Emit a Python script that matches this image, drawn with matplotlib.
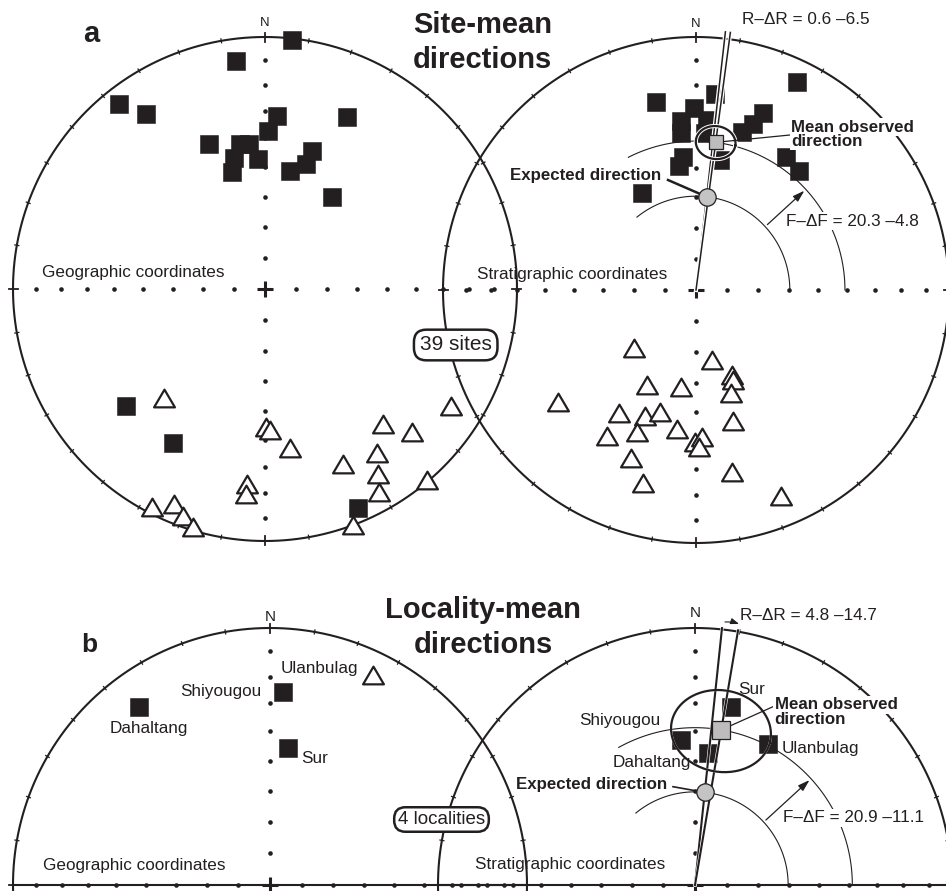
import numpy as np
import matplotlib.pyplot as plt
import matplotlib.patheffects as pe
from matplotlib.path import Path

plt.rcParams['font.family'] = ['Liberation Sans', 'DejaVu Sans']
ink = '#231f20'

# site-mean directions (declination, inclination); negative inclination = upper hemisphere
geo_dec = [6.1, 352.8, 321.7, 325.7, 4.1, 25.5, 1.0, 339.0, 350.2, 353.7,
           346.8, 357.1, 344.4, 18.8, 18.0, 12.1, 35.9, 230.0, 210.9, 156.9,
           222.7, 179.7, 178.0, 171.1, 185.4, 185.4, 207.4, 202.9, 199.9, 196.9,
           122.1, 138.8, 134.2, 155.9, 145.6, 148.6, 150.6, 139.6, 159.5]
geo_inc = [0.5, 9.7, 7.3, 17.2, 31.8, 25.2, 37.4, 38.2, 41.3, 41.8,
           45.7, 47.0, 50.0, 41.7, 46.6, 50.4, 52.7, 28.8, 29.4, 6.3,
           -40.7, -44.5, -43.3, -36.2, -23.3, -19.4, -2.7, -8.1, -4.7, -1.6,
           -13.7, -29.4, -19.9, -24.9, -22.1, -14.9, -8.5, -0.6, -0.2]
strat_dec = [25.8, 348.0, 5.5, 359.3, 354.9, 3.8, 354.5, 3.3, 20.6, 18.9,
             16.2, 10.5, 354.6, 352.3, 34.2, 40.8, 330.7,
             226.8, 167.4, 157.2, 157.5, 161.4, 207.1, 188.8, 230.9, 212.0, 202.0,
             196.4, 202.5, 211.4, 187.9, 180.4, 177.5, 178.9, 164.1, 201.2, 195.5,
             168.7, 157.6]
strat_inc = [9.4, 24.9, 23.2, 29.0, 33.4, 33.1, 37.8, 37.9, 26.1, 31.3,
             35.1, 46.7, 46.0, 49.1, 36.6, 37.9, 53.9,
             -62.5, -66.9, -60.1, -58.4, -54.5, -55.3, -58.3, -30.6, -42.1, -45.3,
             -48.2, -39.2, -32.9, -43.7, -39.8, -41.5, -38.0, -45.3, -29.6, -22.1,
             -27.6, -13.1]

# locality-mean directions
loc_names = ['Dahaltang', 'Shiyougou', 'Sur', 'Ulanbulag']
loc_geo_dec = [323.7, 3.8, 7.4, 26.1]
loc_geo_inc = [15.0, 25.8, 45.4, -9.9]
loc_strat_dec = [5.6, 354.4, 11.5, 27.4]
loc_strat_inc = [47.3, 42.7, 29.9, 38.2]

# overall means (dec, inc, a95) and expected directions (dec, inc)
site_mean = (7.6, 40.8, 5.8)
site_expected = (6.5, 59.6)
loc_mean = (9.6, 38.7, 14.3)
loc_expected = (6.0, 60.3)
site_stats = ['R\u2013\u0394R = 0.6 \u20136.5', 'F\u2013\u0394F = 20.3 \u20134.8']
loc_stats = ['R\u2013\u0394R = 4.8 \u201314.7', 'F\u2013\u0394F = 20.9 \u201311.1']

# net centres and radii in pixels
net_a_geo = (265, 289, 252)
net_a_strat = (696, 290, 253)
net_b_geo = (270, 885, 257)
net_b_strat = (695, 885, 257)

fig = plt.figure(figsize=(9.46, 8.91), dpi=100)
ax = fig.add_axes([0, 0, 1, 1])
ax.set_xlim(0, 946)
ax.set_ylim(891, 0)
ax.axis('off')


def rad(inc, R):
    return R * np.sqrt(2) * np.sin(np.radians(90 - np.abs(inc)) / 2)


def proj(dec, inc, net):
    cx, cy, R = net
    d = np.radians(np.asarray(dec, float))
    r = rad(np.asarray(inc, float), R)
    return cx + r * np.sin(d), cy - r * np.cos(d)


def at(az, r, net):
    cx, cy, _ = net
    a = np.radians(az)
    return cx + r * np.sin(a), cy - r * np.cos(a)


def draw_net(net, half=False):
    cx, cy, R = net
    t = np.linspace(0, 2 * np.pi, 721)
    ax.plot(cx + R * np.sin(t), cy - R * np.cos(t), color=ink, lw=1.5, zorder=1)
    for a in range(0, 360, 10):
        big = a % 90 == 0
        r0, r1 = (R - 5, R + 4) if big else (R - 2, R + 2)
        x, y = at(np.array([a, a]), np.array([r0, r1]), net)
        ax.plot(x, y, color=ink, lw=1.3 if big else 0.9, zorder=1)
    incs = np.arange(10, 90, 10)
    for a in (0, 90, 180, 270):
        x, y = proj(np.full(8, a), incs, net)
        ax.plot(x, y, 'o', ms=3.3, mfc=ink, mew=0, ls='none', zorder=2)
    ax.plot(cx, cy, '+', ms=11, mew=2.2, color=ink, zorder=2)
    if half:
        ax.plot([cx - R, cx + R], [cy, cy], color=ink, lw=1.5, zorder=1)


tri = Path([(0, 0.85), (-1, -0.85), (1, -0.85), (0, 0.85)],
           [Path.MOVETO, Path.LINETO, Path.LINETO, Path.CLOSEPOLY])


def plot_dirs(dec, inc, net):
    dec = np.asarray(dec, float)
    inc = np.asarray(inc, float)
    x, y = proj(dec, inc, net)
    down = inc >= 0
    ax.plot(x[down], y[down], 's', ms=13.3, mfc=ink, mec=ink, mew=0.4, ls='none', zorder=4)
    ax.plot(x[~down], y[~down], marker=tri, ms=15, mfc='white', mec=ink, mew=1.6,
            ls='none', zorder=4)
    return x, y


def cone(dec, inc, a95):
    D, I, a = np.radians([dec, inc, a95])
    m = np.array([np.cos(I) * np.cos(D), np.cos(I) * np.sin(D), np.sin(I)])
    u1 = np.array([-np.sin(D), np.cos(D), 0.0])
    u2 = np.cross(m, u1)
    t = np.linspace(0, 2 * np.pi, 200)
    p = (np.cos(a) * m[:, None]
         + np.sin(a) * (np.cos(t) * u1[:, None] + np.sin(t) * u2[:, None]))
    return np.degrees(np.arctan2(p[1], p[0])), np.degrees(np.arcsin(p[2]))


def plot_stats(net, mean, expected, arcs0, ext, sq_ms, ex_ms, dlw, halo_w, cone_halo):
    cx, cy, R = net
    halo = [pe.Stroke(linewidth=dlw + halo_w, foreground='white'), pe.Normal()]
    # declination lines
    for d in (expected[0], mean[0]):
        x, y = at(np.array([d, d]), np.array([0, ext * R]), net)
        ax.plot(x, y, color=ink, lw=dlw, zorder=5, path_effects=halo)
    # inclination arcs
    for inc, az0 in zip((expected[1], mean[1]), arcs0):
        az = np.linspace(az0, 90, 120)
        x, y = at(az, rad(inc, R), net)
        ax.plot(x, y, color=ink, lw=0.8, zorder=3)
    # flattening arrow
    r_in, r_out = rad(expected[1], R), rad(mean[1], R)
    ax.annotate('', xy=at(47.5, r_out - 2, net), xytext=at(47.5, r_in + 3, net),
                arrowprops=dict(arrowstyle='-|>,head_length=0.7,head_width=0.22',
                                color=ink, lw=0.9, shrinkA=0, shrinkB=0), zorder=3)
    # confidence cone
    cd, ci = cone(*mean)
    x, y = proj(cd, ci, net)
    effects = [pe.Stroke(linewidth=1.6 + cone_halo, foreground='white'), pe.Normal()]
    ax.plot(x, y, color=ink, lw=1.6, zorder=6, path_effects=effects)
    mx, my = proj([mean[0]], [mean[1]], net)
    ax.plot(mx, my, 's', ms=sq_ms, mfc='#bdbdbd', mec=ink, mew=0.9, zorder=7)
    ex, ey = proj([expected[0]], [expected[1]], net)
    ax.plot(ex, ey, 'o', ms=ex_ms, mfc='#c4c4c4', mec=ink, mew=0.9, zorder=7)
    return (mx[0], my[0]), (ex[0], ey[0])


def label(x, y, s, size=12.3, weight='normal', ha='left', box=False):
    bb = dict(boxstyle='square,pad=0.08', fc='white', ec='none') if box else None
    ax.text(x, y, s, fontsize=size, fontweight=weight, ha=ha, va='baseline',
            color=ink, bbox=bb, zorder=8)


# ---------------- panel a ----------------
draw_net(net_a_geo)
draw_net(net_a_strat)
plot_dirs(geo_dec, geo_inc, net_a_geo)
plot_dirs(strat_dec, strat_inc, net_a_strat)
(mx, my), (ex, ey) = plot_stats(net_a_strat, site_mean, site_expected, (-39, -27),
                                1.027, 10.5, 12.5, 1.1, 1.8, 1.4)
ax.plot([790, mx], [135, my], color=ink, lw=0.9, zorder=6)
ax.plot([668, ex], [180, ey], color=ink, lw=1.8, zorder=6)

label(90.8, 42.3, 'a', 21, 'bold', 'center')
label(482.5, 33.3, 'Site-mean', 21, 'bold', 'center')
label(482.5, 68.3, 'directions', 21, 'bold', 'center')
label(265, 26, 'N', 9.5, ha='center')
label(696, 26.7, 'N', 9.5, ha='center')
label(42.3, 277.5, 'Geographic coordinates')
label(477, 279.5, 'Stratigraphic coordinates')
label(742.3, 24, site_stats[0])
label(785.7, 225.7, site_stats[1], box=True)
label(791.3, 131.7, 'Mean observed', 12.2, 'bold', box=True)
label(791.3, 146, 'direction', 12.2, 'bold', box=True)
label(509.7, 180, 'Expected direction', 12.2, 'bold')
ax.text(455.7, 345, '39 sites', fontsize=15, ha='center', va='center', color=ink, zorder=9,
        bbox=dict(boxstyle='round,pad=0.28,rounding_size=0.6', fc='white', ec=ink, lw=1.8))

# ---------------- panel b ----------------
draw_net(net_b_geo, half=True)
draw_net(net_b_strat, half=True)
gx, gy = plot_dirs(loc_geo_dec, loc_geo_inc, net_b_geo)
sx, sy = plot_dirs(loc_strat_dec, loc_strat_inc, net_b_strat)
(mx, my), (ex, ey) = plot_stats(net_b_strat, loc_mean, loc_expected, (-39.4, -29),
                                1.005, 13, 12.5, 1.5, 0.8, 0.0)
ax.plot([773, mx], [706.7, my], color=ink, lw=0.9, zorder=6)
ax.plot([673, ex], [786.7, ey], color=ink, lw=1.2, zorder=6)
# rotation arrow above the rim
cxs, cys, Rs = net_b_strat
ax.annotate('', xy=at(loc_mean[0], 1.03 * Rs, net_b_strat),
            xytext=at(loc_expected[0] + 0.5, 1.03 * Rs, net_b_strat),
            arrowprops=dict(arrowstyle='-|>,head_length=0.5,head_width=0.18', color=ink,
                            lw=0.8, shrinkA=0, shrinkB=0, connectionstyle='arc3,rad=-0.1'))

geo_off = {'Dahaltang': (-29.7, 26.6, 'left'), 'Shiyougou': (-21, 3.7, 'right'),
           'Sur': (13.3, 14.4, 'left'), 'Ulanbulag': (-14.4, -1.7, 'right')}
strat_off = {'Dahaltang': (-16.7, 13.4, 'right'), 'Shiyougou': (-20.4, -15, 'right'),
             'Sur': (6.7, -12.7, 'left'), 'Ulanbulag': (13.3, 9.3, 'left')}
for i, name in enumerate(loc_names):
    dx, dy, ha = geo_off[name]
    label(gx[i] + dx, gy[i] + dy, name, ha=ha)
    dx, dy, ha = strat_off[name]
    label(sx[i] + dx, sy[i] + dy, name, ha=ha)

label(89, 651.7, 'b', 19, 'bold', 'center')
label(483, 618.3, 'Locality-mean', 21, 'bold', 'center')
label(483, 653.3, 'directions', 21, 'bold', 'center')
label(270, 620.7, 'N', 11, ha='center')
label(695.7, 617.3, 'N', 11, ha='center')
label(43.3, 870, 'Geographic coordinates')
label(474.7, 869, 'Stratigraphic coordinates')
label(739.7, 620, loc_stats[0])
label(783, 822.3, loc_stats[1], box=True)
label(774.7, 709.3, 'Mean observed', 12.2, 'bold', box=True)
label(774.7, 724, 'direction', 12.2, 'bold', box=True)
label(516.3, 789.3, 'Expected direction', 12.2, 'bold')
ax.text(441.5, 819.5, '4 localities', fontsize=13.5, ha='center', va='center', color=ink,
        zorder=9,
        bbox=dict(boxstyle='round,pad=0.2,rounding_size=0.6', fc='white', ec=ink, lw=1.8))

fig.savefig('out.png', dpi=100)
